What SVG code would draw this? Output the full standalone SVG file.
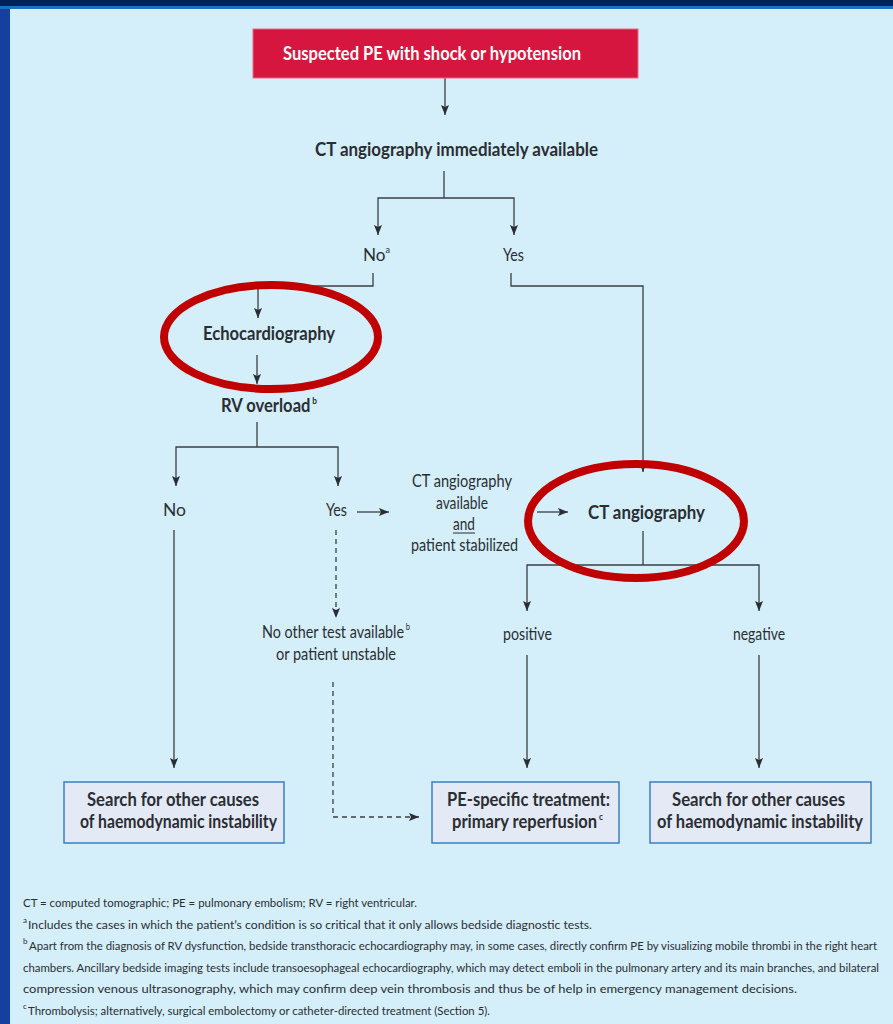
<svg xmlns="http://www.w3.org/2000/svg" width="893" height="1024" viewBox="0 0 893 1024">
<style>
.b{font-family:Lato,"Liberation Sans",sans-serif;font-weight:bold;font-size:18px;fill:#2a2e33}
.r{font-family:Lato,"Liberation Sans",sans-serif;font-size:17px;fill:#2a2e33}
.sup{font-size:9px}
.f{font-family:Lato,"Liberation Sans",sans-serif;font-size:11.5px;fill:#2a2e33}
.fs{font-family:Lato,"Liberation Sans",sans-serif;font-size:8px;fill:#2a2e33}
.ln{fill:none;stroke:#3a3f45;stroke-width:1.3}
.ar{marker-end:url(#ah)}
.da{stroke-dasharray:5 4}
.box{fill:#e4e9f6;stroke:#3b7fbf;stroke-width:1.5}
.hl{fill:none;stroke:#c00000;stroke-width:8}
</style>
<defs>
<marker id="ah" markerUnits="userSpaceOnUse" markerWidth="10" markerHeight="8" refX="10" refY="4" orient="auto">
<path d="M0,0 L10,4 L0,8 L2,4 z" fill="#2a2e33"/>
</marker>
</defs>
<rect x="0" y="0" width="893" height="1024" fill="#1540a0"/>
<rect x="0" y="0" width="893" height="7" fill="#03205f"/>
<rect x="0" y="6" width="893" height="3" fill="#1c6fc2"/>
<rect x="10" y="9" width="883" height="1015" fill="#d4eefa"/>

<g id="connectors">
<line class="ln ar" x1="445" y1="78" x2="445" y2="115"/>
<polyline class="ln" points="444,171 444,198"/>
<polyline class="ln ar" points="444,198 378,198 378,235"/>
<polyline class="ln ar" points="444,198 514,198 514,235"/>
<polyline class="ln ar" points="373,273 373,286 258,286 258,318"/>
<polyline class="ln ar" points="511,273 511,286 643,286 643,472"/>
<line class="ln ar" x1="257" y1="355" x2="257" y2="384"/>
<polyline class="ln" points="257,422 257,447"/>
<polyline class="ln ar" points="257,447 176,447 176,486"/>
<polyline class="ln ar" points="257,447 338,447 338,486"/>
<line class="ln ar" x1="174" y1="530" x2="174" y2="768"/>
<line class="ln ar" x1="357" y1="512" x2="389" y2="512"/>
<line class="ln ar" x1="537" y1="512" x2="568" y2="512"/>
<line class="ln da ar" x1="336" y1="530" x2="336" y2="618"/>
<polyline class="ln da ar" points="333,682 333,817 419,817"/>
<line class="ln" x1="643" y1="531" x2="643" y2="565"/>
<polyline class="ln ar" points="643,565 527,565 527,611"/>
<polyline class="ln ar" points="643,565 759,565 759,611"/>
<line class="ln ar" x1="527" y1="655" x2="527" y2="768"/>
<line class="ln ar" x1="759" y1="655" x2="759" y2="768"/>
</g>

<g id="start">
<rect x="253" y="29" width="385" height="49" fill="#d6163f" stroke="#e86a80" stroke-width="1"/>
<text class="b" x="283" y="60" textLength="298" lengthAdjust="spacingAndGlyphs" style="fill:#ffffff">Suspected PE with shock or hypotension</text>
</g>
<g id="ct-immediate">
<text class="b" x="315" y="156" textLength="283" lengthAdjust="spacingAndGlyphs">CT angiography immediately available</text>
</g>
<g id="no-a">
<text class="r" x="363" y="261" textLength="27" lengthAdjust="spacingAndGlyphs">No<tspan class="sup" dy="-8">a</tspan></text>
</g>
<g id="yes-top">
<text class="r" x="503" y="261" textLength="21" lengthAdjust="spacingAndGlyphs">Yes</text>
</g>
<g id="echo">
<text class="b" x="203" y="340" textLength="132" lengthAdjust="spacingAndGlyphs">Echocardiography</text>
</g>
<g id="rv-overload">
<text class="b" x="221" y="412" textLength="96" lengthAdjust="spacingAndGlyphs">RV overload<tspan class="sup" dx="2" dy="-8">b</tspan></text>
</g>
<g id="no-rv">
<text class="r" x="163" y="516" textLength="23" lengthAdjust="spacingAndGlyphs">No</text>
</g>
<g id="yes-rv">
<text class="r" x="326" y="516" textLength="21" lengthAdjust="spacingAndGlyphs">Yes</text>
</g>
<g id="ct-available">
<text class="r" x="412" y="487" textLength="100" lengthAdjust="spacingAndGlyphs">CT angiography</text>
<text class="r" x="436" y="509" textLength="52" lengthAdjust="spacingAndGlyphs">available</text>
<text class="r" x="453" y="530" textLength="22" lengthAdjust="spacingAndGlyphs">and</text>
<line x1="453" y1="533" x2="475" y2="533" stroke="#2a2e33" stroke-width="1"/>
<text class="r" x="411" y="551" textLength="107" lengthAdjust="spacingAndGlyphs">patient stabilized</text>
</g>
<g id="ct-angio">
<text class="b" x="588" y="519" textLength="117" lengthAdjust="spacingAndGlyphs">CT angiography</text>
</g>
<g id="no-other">
<text class="r" x="262" y="638" textLength="148" lengthAdjust="spacingAndGlyphs">No other test available<tspan class="sup" dx="2" dy="-8">b</tspan></text>
<text class="r" x="276" y="660" textLength="120" lengthAdjust="spacingAndGlyphs">or patient unstable</text>
</g>
<g id="positive">
<text class="r" x="503" y="640" textLength="49" lengthAdjust="spacingAndGlyphs">positive</text>
</g>
<g id="negative">
<text class="r" x="733" y="640" textLength="52" lengthAdjust="spacingAndGlyphs">negative</text>
</g>
<g id="search-left">
<rect class="box" x="64" y="782" width="220" height="61"/>
<text class="b" x="87" y="806" textLength="172" lengthAdjust="spacingAndGlyphs">Search for other causes</text>
<text class="b" x="80" y="828" textLength="197" lengthAdjust="spacingAndGlyphs">of haemodynamic instability</text>
</g>
<g id="pe-treatment">
<rect class="box" x="432" y="782" width="187" height="61"/>
<text class="b" x="447" y="806" textLength="163" lengthAdjust="spacingAndGlyphs">PE-specific treatment:</text>
<text class="b" x="452" y="828" textLength="151" lengthAdjust="spacingAndGlyphs">primary reperfusion<tspan class="sup" dx="2" dy="-8">c</tspan></text>
</g>
<g id="search-right">
<rect class="box" x="650" y="782" width="221" height="61"/>
<text class="b" x="672" y="806" textLength="173" lengthAdjust="spacingAndGlyphs">Search for other causes</text>
<text class="b" x="657" y="828" textLength="206" lengthAdjust="spacingAndGlyphs">of haemodynamic instability</text>
</g>

<g id="highlights">
<ellipse class="hl" cx="271" cy="337" rx="107" ry="52"/>
<ellipse class="hl" cx="636" cy="521" rx="108" ry="57"/>
</g>

<g id="footnotes">
<text class="f" x="23" y="907" textLength="394" lengthAdjust="spacingAndGlyphs">CT = computed tomographic; PE = pulmonary embolism; RV = right ventricular.</text>
<text class="fs" x="23" y="923">a</text>
<text class="f" x="28" y="929" textLength="564" lengthAdjust="spacingAndGlyphs">Includes the cases in which the patient’s condition is so critical that it only allows bedside diagnostic tests.</text>
<text class="fs" x="23" y="944">b</text>
<text class="f" x="29" y="950" textLength="848" lengthAdjust="spacingAndGlyphs">Apart from the diagnosis of RV dysfunction, bedside transthoracic echocardiography may, in some cases, directly confirm PE by visualizing mobile thrombi in the right heart</text>
<text class="f" x="23" y="972" textLength="856" lengthAdjust="spacingAndGlyphs">chambers. Ancillary bedside imaging tests include transoesophageal echocardiography, which may detect emboli in the pulmonary artery and its main branches, and bilateral</text>
<text class="f" x="23" y="993" textLength="774" lengthAdjust="spacingAndGlyphs">compression venous ultrasonography, which may confirm deep vein thrombosis and thus be of help in emergency management decisions.</text>
<text class="fs" x="23" y="1009">c</text>
<text class="f" x="28" y="1015" textLength="462" lengthAdjust="spacingAndGlyphs">Thrombolysis; alternatively, surgical embolectomy or catheter-directed treatment (Section 5).</text>
</g>
</svg>
